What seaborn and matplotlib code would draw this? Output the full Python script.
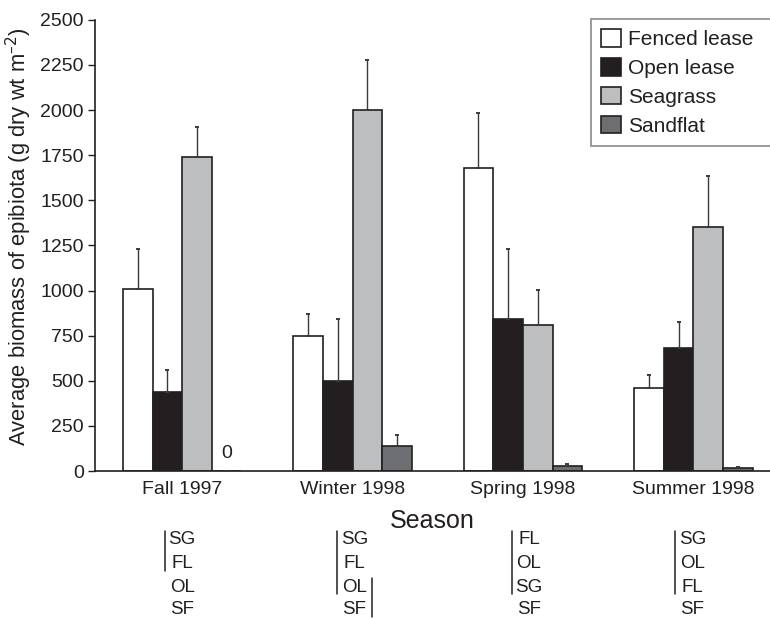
import numpy as np
import pandas as pd
import matplotlib
matplotlib.use("Agg")
import matplotlib.pyplot as plt
import matplotlib.transforms as mtransforms
from matplotlib.lines import Line2D
import seaborn as sns

# ---------------- data ----------------
seasons = ["Fall 1997", "Winter 1998", "Spring 1998", "Summer 1998"]
habitats = ["Fenced lease", "Open lease", "Seagrass", "Sandflat"]
fenced = [1010, 750, 1680, 460]
open_lease = [440, 500, 840, 680]
seagrass = [1740, 2000, 810, 1350]
sandflat = [0, 140, 30, 15]
fenced_se = [223, 118, 305, 72]
open_se = [122, 343, 390, 144]
seagrass_se = [164, 279, 194, 286]
sandflat_se = [0, 59, 7, 5]
y_ticks = [0, 250, 500, 750, 1000, 1250, 1500, 1750, 2000, 2250, 2500]
# ranking of habitats per season (multiple comparisons) and non-significant groupings (row ranges)
ranks = [["SG", "FL", "OL", "SF"],
         ["SG", "FL", "OL", "SF"],
         ["FL", "OL", "SG", "SF"],
         ["SG", "OL", "FL", "SF"]]
groups_left = [(0, 1), (0, 2), (0, 2), (0, 2)]
groups_right = [None, (2, 3), None, None]
zero_label = "0"

# ---------------- table ----------------
values = [fenced, open_lease, seagrass, sandflat]
errs = [fenced_se, open_se, seagrass_se, sandflat_se]
df = pd.DataFrame({
    "Season": np.repeat([seasons], len(habitats), axis=0).ravel(),
    "Habitat": np.repeat(habitats, len(seasons)),
    "Biomass": np.concatenate(values),
})

TXT = "#231f20"
sns.set_theme(style="white")
plt.rcParams["font.family"] = ["Liberation Sans", "DejaVu Sans"]
plt.rcParams["text.color"] = TXT
plt.rcParams["axes.labelcolor"] = TXT
plt.rcParams["xtick.color"] = TXT
plt.rcParams["ytick.color"] = TXT

fig = plt.figure(figsize=(7.7, 6.19), dpi=100)
ax = fig.add_axes([0.124, 0.239, 0.876, 0.729])

palette = {"Fenced lease": "#ffffff", "Open lease": "#231f20",
           "Seagrass": "#bcbec0", "Sandflat": "#6d6e71"}
sns.barplot(data=df, x="Season", y="Biomass", hue="Habitat", order=seasons,
            hue_order=habitats, palette=palette, width=0.696, saturation=1,
            edgecolor="#231f20", linewidth=1.2, errorbar=None, ax=ax)

for cont, e in zip(ax.containers, errs):
    xs = [b.get_x() + b.get_width() / 2 for b in cont]
    hs = [b.get_height() for b in cont]
    ax.errorbar(xs, hs, yerr=[np.zeros(len(e)), e], fmt="none",
                ecolor="#3a3a3a", elinewidth=1.0, capsize=1.6, capthick=1.4,
                zorder=3)

# "0" label for missing sandflat epibiota in Fall
b0 = ax.containers[3][0]
ax.text(b0.get_x() + b0.get_width() / 2, 100, zero_label, ha="center",
        va="center", fontsize=14, color=TXT)

ax.set_xlim(-0.509, 3.45)
ax.set_ylim(0, 2500)
ax.set_yticks(y_ticks)
ax.set_xlabel("Season", fontsize=18, labelpad=8)
ax.set_ylabel("Average biomass of epibiota (g dry wt m$^{\u2013 2}$)",
              fontsize=15.8)
ax.yaxis.set_label_coords(-0.091, 0.52)
ax.tick_params(axis="y", direction="out", length=5, width=1, pad=3.5,
               labelsize=14, left=True)
ax.tick_params(axis="x", length=0, pad=7, labelsize=14)
for s in ["top", "right"]:
    ax.spines[s].set_visible(False)
for s in ["left", "bottom"]:
    ax.spines[s].set_color("#231f20")
    ax.spines[s].set_linewidth(1.2)

handles, labels = ax.get_legend_handles_labels()
leg = ax.legend(handles, labels, loc="upper left",
                bbox_to_anchor=(591 / 770, 0, 185 / 770, 1 - 19 / 619),
                bbox_transform=fig.transFigure, mode="expand",
                frameon=True, fancybox=False, fontsize=15, handlelength=0.92,
                handleheight=0.92, handletextpad=0.38, labelspacing=0.42,
                borderpad=0.5, borderaxespad=0.0, title=None)
leg.get_frame().set_edgecolor("#6d6e71")
leg.get_frame().set_linewidth(1.2)

# significance rankings below the axis
blend = mtransforms.blended_transform_factory(ax.transData, fig.transFigure)
row_px = [540, 563.5, 587, 609.5]
text_off = [0.0, 0.01, 0.035, -0.005]
for i, (rank, gl, gr) in enumerate(zip(ranks, groups_left, groups_right)):
    cx = i + text_off[i]
    for r, lab in enumerate(rank):
        fig.text(cx, 1 - row_px[r] / 619, lab, transform=blend, ha="center",
                 va="center", fontsize=13.5, color=TXT)
    for g, side in ((gl, -1), (gr, 1)):
        if g is None:
            continue
        y0 = 1 - (row_px[g[0]] - 9) / 619
        y1 = 1 - (row_px[g[1]] + 7) / 619
        fig.add_artist(Line2D([cx + side * 0.102] * 2, [y0, y1],
                              transform=blend, color=TXT, lw=1.1,
                              clip_on=False))

fig.savefig("out.png", dpi=100)
